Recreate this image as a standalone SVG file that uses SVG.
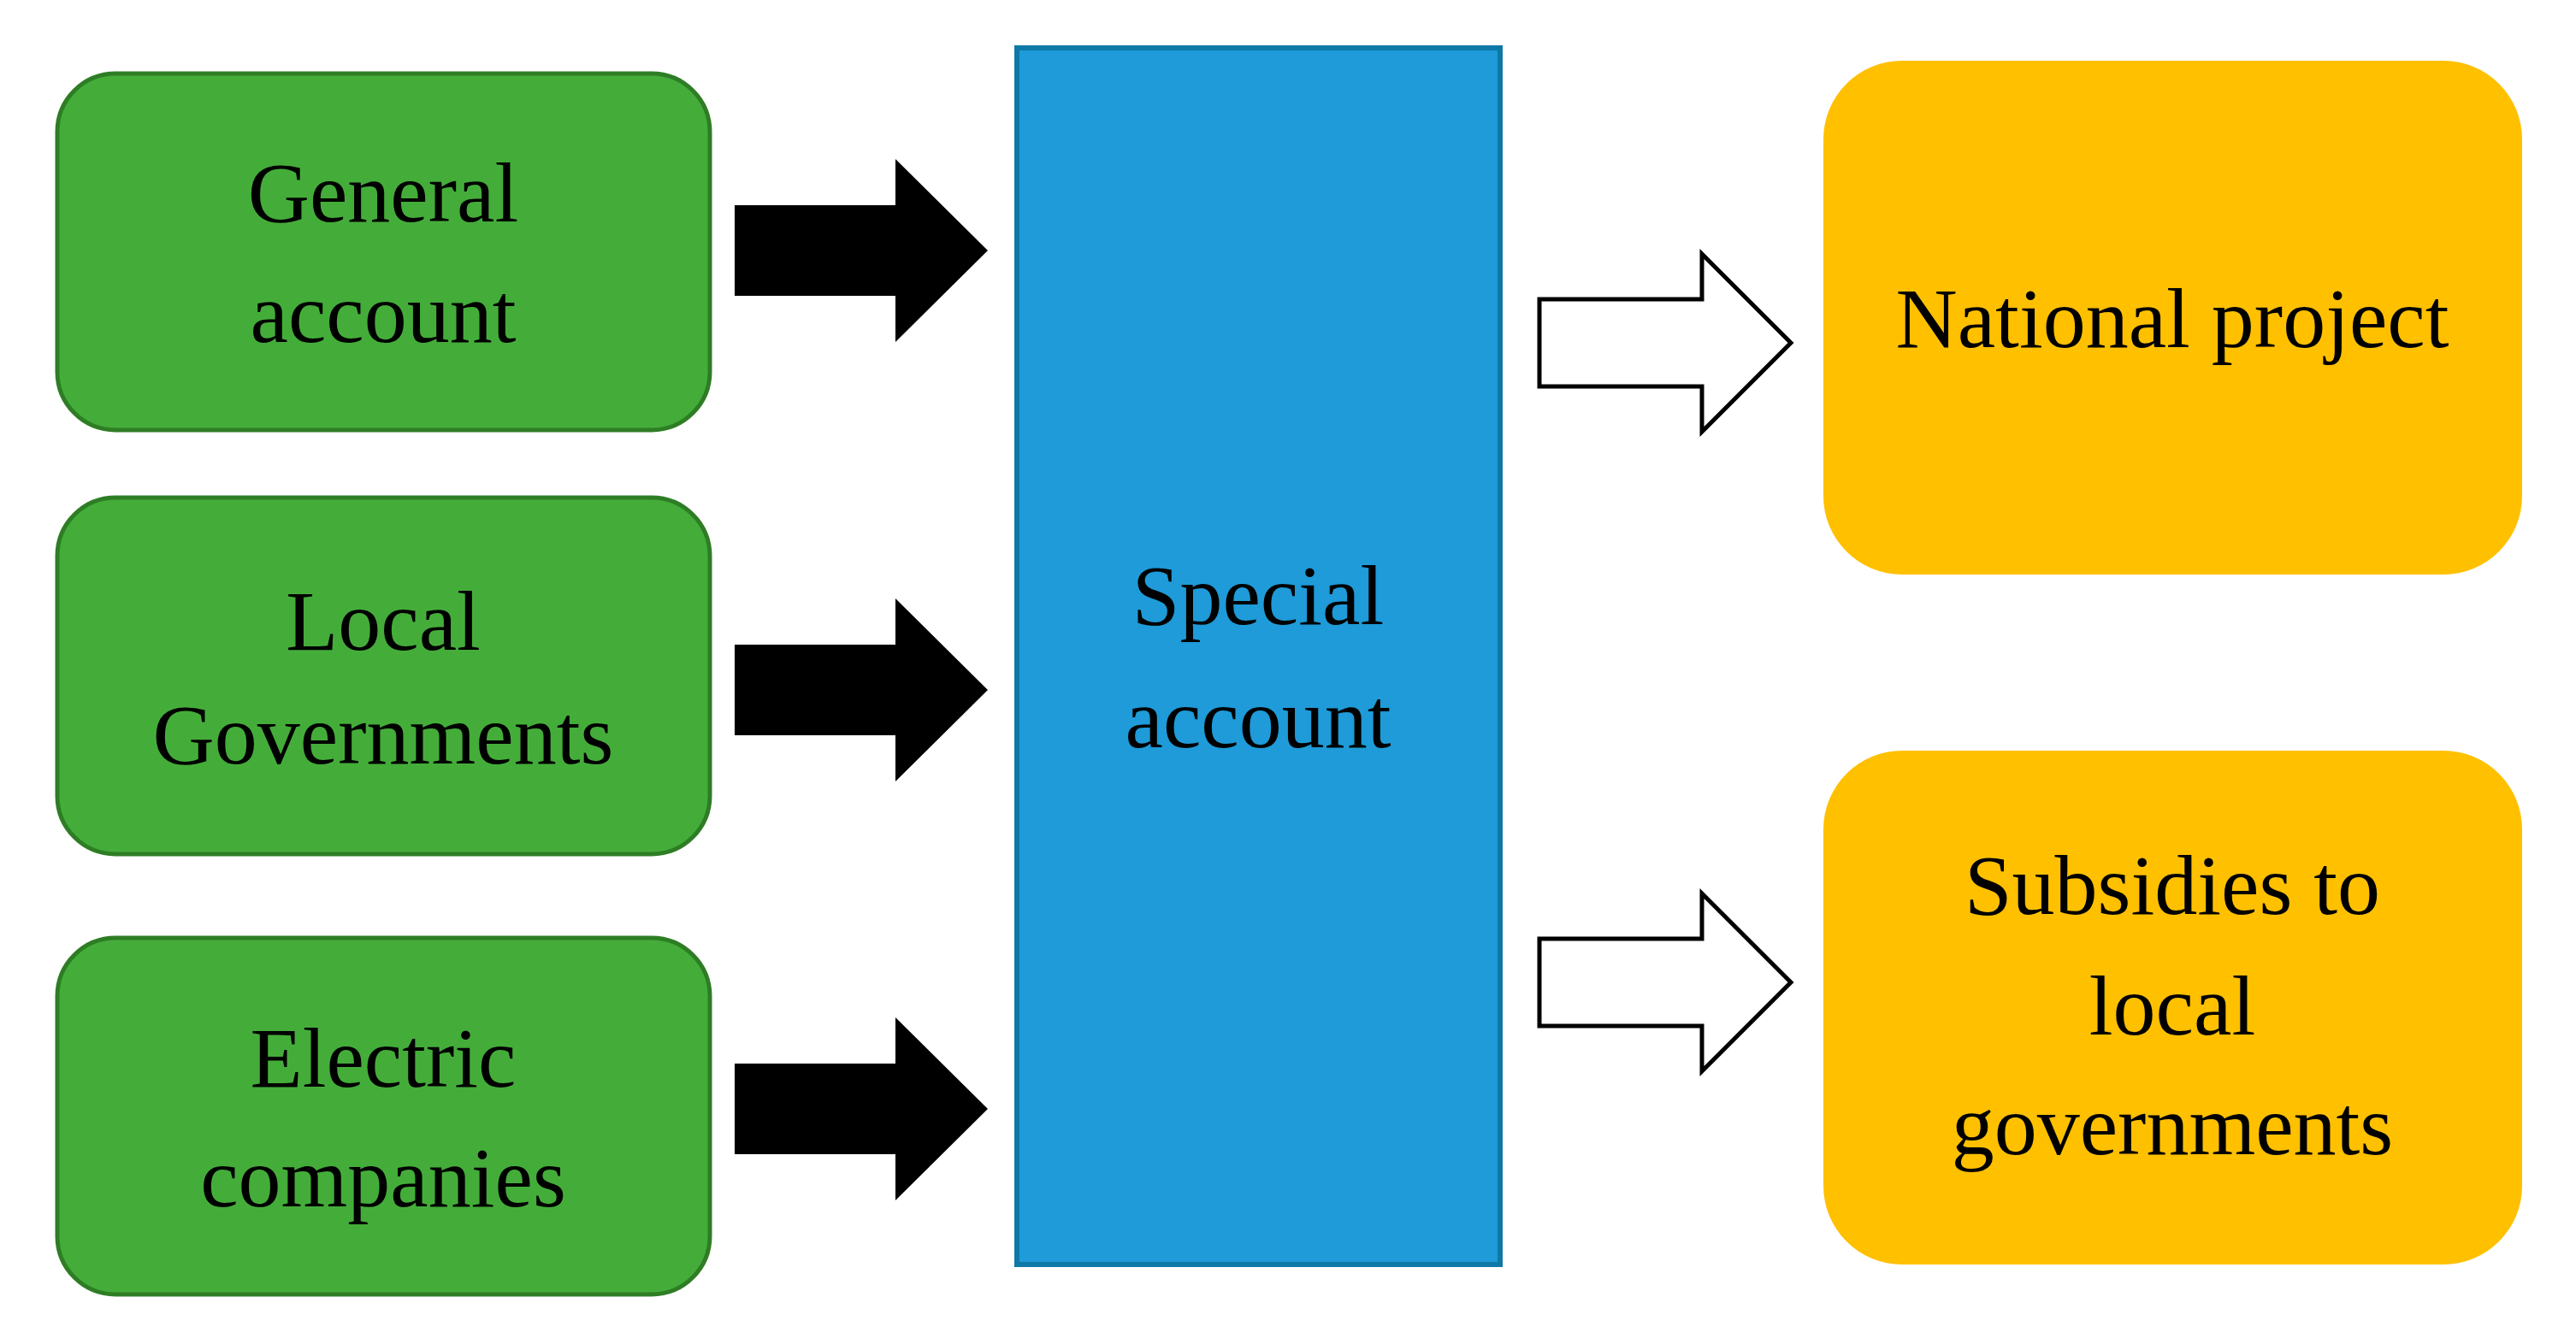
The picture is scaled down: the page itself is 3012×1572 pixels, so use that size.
<svg xmlns="http://www.w3.org/2000/svg" width="3012" height="1572" viewBox="0 0 3012 1572">
  <style>
    .green { fill: #44ad3a; stroke: #2e7d25; stroke-width: 5; }
    .blue { fill: #1e9bd8; stroke: #0e78a6; stroke-width: 6; }
    .orange { fill: #ffc000; stroke: none; }
    .lbl { font-family: "Liberation Serif", "Times New Roman", serif; font-size: 100px; fill: #000; text-anchor: middle; }
    .solid { fill: #000; stroke: none; }
    .hollow { fill: #fff; stroke: #000; stroke-width: 5; stroke-linejoin: miter; }
  </style>
  <defs>
    <path id="blackArrow" d="M0,-53 H188 V-107 L296,0 L188,107 V53 H0 Z"/>
    <path id="whiteArrow" d="M0,-51 H190 V-104 L294,0 L190,104 V51 H0 Z"/>
  </defs>
  <rect width="3012" height="1572" fill="#fff"/>

  <g id="general-account">
    <rect class="green" x="67" y="86" width="763" height="417" rx="68" ry="68"/>
    <text class="lbl" x="448" y="259">General</text>
    <text class="lbl" x="448" y="400">account</text>
  </g>
  <g id="local-governments">
    <rect class="green" x="67" y="582" width="763" height="417" rx="68" ry="68"/>
    <text class="lbl" x="448" y="760">Local</text>
    <text class="lbl" x="448" y="893">Governments</text>
  </g>
  <g id="electric-companies">
    <rect class="green" x="67" y="1097" width="763" height="417" rx="68" ry="68"/>
    <text class="lbl" x="448" y="1271">Electric</text>
    <text class="lbl" x="448" y="1411">companies</text>
  </g>

  <g id="special-account">
    <rect class="blue" x="1189" y="56" width="565" height="1423"/>
    <text class="lbl" x="1471" y="730">Special</text>
    <text class="lbl" x="1471" y="874">account</text>
  </g>

  <g id="national-project">
    <rect class="orange" x="2132" y="71" width="817" height="601" rx="92" ry="92"/>
    <text class="lbl" x="2540" y="406">National project</text>
  </g>
  <g id="subsidies">
    <rect class="orange" x="2132" y="878" width="817" height="601" rx="92" ry="92"/>
    <text class="lbl" x="2540" y="1069">Subsidies to</text>
    <text class="lbl" x="2540" y="1210">local</text>
    <text class="lbl" x="2540" y="1350">governments</text>
  </g>

  <g id="connectors">
    <use href="#blackArrow" class="solid" transform="translate(859,293)"/>
    <use href="#blackArrow" class="solid" transform="translate(859,807)"/>
    <use href="#blackArrow" class="solid" transform="translate(859,1297)"/>
    <use href="#whiteArrow" class="hollow" transform="translate(1800,401)"/>
    <use href="#whiteArrow" class="hollow" transform="translate(1800,1149)"/>
  </g>
</svg>
